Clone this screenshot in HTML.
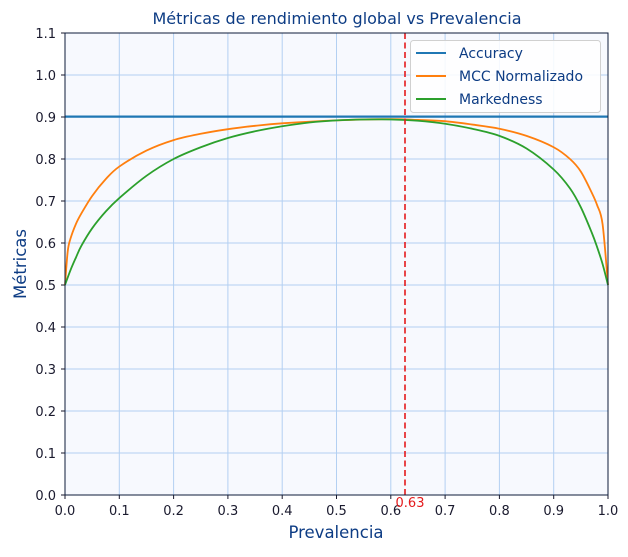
<!DOCTYPE html><html><head><meta charset="utf-8"><style>
body{margin:0;background:#fff;width:628px;height:552px;overflow:hidden}
text{font-family:"DejaVu Sans","Liberation Sans",sans-serif}
</style></head><body>
<svg id="s" width="628" height="552" xmlns="http://www.w3.org/2000/svg">
<rect x="65" y="33" width="543" height="462" fill="#f7f9fe"/>
<g id="grid" stroke="#b3d0f2" stroke-width="1"></g>
<g id="ticks" font-size="13" fill="#1a1a2e"></g>
<line x1="65" x2="608" y1="116.6" y2="116.6" stroke="#1f77b4" stroke-width="2.2"/>
<path id="mcc" fill="none" stroke="#ff7f0e" stroke-width="1.8"/>
<path id="mk" fill="none" stroke="#2ca02c" stroke-width="1.8"/>
<line x1="405" x2="405" y1="33" y2="495" stroke="#e41a1c" stroke-width="1.6" stroke-dasharray="6,3.5"/>
<text x="410" y="507" font-size="13" fill="#e41a1c" text-anchor="middle">0.63</text>
<rect x="65" y="33" width="543" height="462" fill="none" stroke="#0d1b3a" stroke-width="1"/>
<text x="337" y="24" font-size="16" fill="#0d3c84" text-anchor="middle">Métricas de rendimiento global vs Prevalencia</text>
<text x="336" y="538" font-size="16.5" fill="#0d3c84" text-anchor="middle">Prevalencia</text>
<text transform="translate(26,264) rotate(-90)" font-size="16.5" fill="#0d3c84" text-anchor="middle">Métricas</text>
<rect x="410.5" y="40.5" width="190" height="72" rx="3" fill="#fff" fill-opacity="0.85" stroke="#d0d0d0"/>
<line x1="416" x2="446" y1="53" y2="53" stroke="#1f77b4" stroke-width="2"/>
<line x1="416" x2="446" y1="76" y2="76" stroke="#ff7f0e" stroke-width="2"/>
<line x1="416" x2="446" y1="99" y2="99" stroke="#2ca02c" stroke-width="2"/>
<g font-size="14" fill="#0d3c84"><text x="459" y="58">Accuracy</text><text x="459" y="81">MCC Normalizado</text><text x="459" y="104">Markedness</text></g>
</svg>
<script>
var ns="http://www.w3.org/2000/svg";
function X(p){return 65+543*p}function Y(v){return 495-420*v}
var g=document.getElementById('grid'),t=document.getElementById('ticks');
function el(par,n,a,txt){var e=document.createElementNS(ns,n);for(var k in a)e.setAttribute(k,a[k]);if(txt)e.textContent=txt;par.appendChild(e);}
for(var i=0;i<=10;i++){var x=X(i/10);if(i>0&&i<10)el(g,'line',{x1:x,x2:x,y1:33,y2:495});
el(t,'line',{x1:x,x2:x,y1:495,y2:499,stroke:'#1a1a2e'});el(t,'text',{x:x,y:515,'text-anchor':'middle'},(i/10).toFixed(1));}
for(var i=0;i<=11;i++){var y=Y(i/10);if(i>0&&i<11)el(g,'line',{x1:65,x2:608,y1:y,y2:y});
el(t,'line',{x1:61,x2:65,y1:y,y2:y,stroke:'#1a1a2e'});el(t,'text',{x:56,y:y+5,'text-anchor':'end'},(i/10).toFixed(1));}
var mk=[[0,.5],[.01,.535],[.02,.565],[.03,.593],[.05,.635],[.075,.675],[.1,.707],[.15,.76],[.2,.80],[.25,.828],[.3,.85],[.35,.866],[.4,.878],[.45,.887],[.5,.892],[.55,.894],[.6,.894],[.65,.891],[.7,.884],[.75,.872],[.8,.855],[.85,.825],[.9,.775],[.93,.73],[.95,.685],[.97,.625],[.98,.59],[.99,.55],[1,.5]];
var mc=[[0,.5],[.005,.58],[.01,.61],[.02,.645],[.03,.67],[.05,.712],[.075,.752],[.1,.782],[.15,.82],[.2,.845],[.25,.86],[.3,.871],[.35,.879],[.4,.885],[.5,.892],[.6,.895],[.65,.893],[.7,.89],[.75,.882],[.8,.872],[.85,.855],[.9,.828],[.93,.80],[.95,.77],[.97,.72],[.98,.69],[.99,.645],[1,.5]];
function path(a){var P=a.map(function(q){return[X(q[0]),Y(q[1])]});var d='M'+P[0][0]+','+P[0][1];
for(var i=0;i<P.length-1;i++){var p0=P[Math.max(i-1,0)],p1=P[i],p2=P[i+1],p3=P[Math.min(i+2,P.length-1)];
d+=' C'+(p1[0]+(p2[0]-p0[0])/6)+','+(p1[1]+(p2[1]-p0[1])/6)+' '+(p2[0]-(p3[0]-p1[0])/6)+','+(p2[1]-(p3[1]-p1[1])/6)+' '+p2[0]+','+p2[1];}return d;}
document.getElementById('mk').setAttribute('d',path(mk));
document.getElementById('mcc').setAttribute('d',path(mc));
</script>
</body></html>
